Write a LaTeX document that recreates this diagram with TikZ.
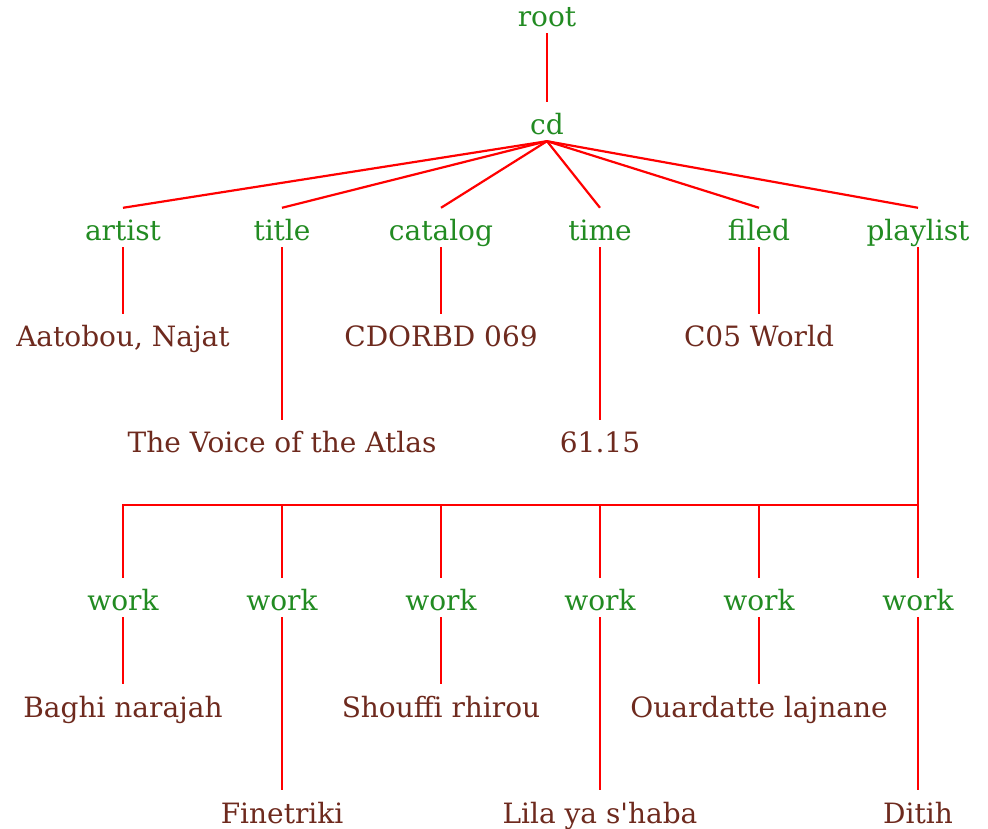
\documentclass[tikz,border=0pt]{standalone}
\usepackage{fontspec}
\setmainfont{DejaVu Serif}
\definecolor{tagc}{RGB}{34,139,34}
\definecolor{valc}{RGB}{110,42,30}
\definecolor{linec}{RGB}{255,0,0}
\begin{document}
\begin{tikzpicture}[x=1pt,y=1pt,
  lbl/.style={anchor=base,font=\fontsize{28}{33}\selectfont,text height=27pt,text depth=0pt,inner ysep=6pt,inner xsep=0pt},
  tag/.style={lbl,text=tagc},
  val/.style={lbl,text=valc},
  conn/.style={draw=linec,line width=2.2pt}]
\useasboundingbox (0,0) rectangle (988,828);
% baselines (image y): 27,135,241,347,453,611,717,823
\node[tag] (root) at (547,801) {root};
\node[tag] (cd) at (547,693) {cd};
\node[tag] (artist) at (123,587) {artist};
\node[tag] (title) at (282,587) {title};
\node[tag] (catalog) at (441,587) {catalog};
\node[tag] (time) at (600,587) {time};
\node[tag] (filed) at (759,587) {filed};
\node[tag] (playlist) at (918,587) {playlist};
\node[val] (vartist) at (123,481) {Aatobou, Najat};
\node[val] (vcatalog) at (441,481) {CDORBD 069};
\node[val] (vfiled) at (759,481) {C05 World};
\node[val] (vtitle) at (282,375) {The Voice of the Atlas};
\node[val] (vtime) at (600,375) {61.15};
\coordinate (bus) at (918,323);
\node[tag] (w1) at (123,217) {work};
\node[tag] (w2) at (282,217) {work};
\node[tag] (w3) at (441,217) {work};
\node[tag] (w4) at (600,217) {work};
\node[tag] (w5) at (759,217) {work};
\node[tag] (w6) at (918,217) {work};
\node[val] (v1) at (123,111) {Baghi narajah};
\node[val] (v3) at (441,111) {Shouffi rhirou};
\node[val] (v5) at (759,111) {Ouardatte lajnane};
\node[val] (v2) at (282,5) {Finetriki};
\node[val] (v4) at (600,5) {Lila ya s\textquotesingle haba};
\node[val] (v6) at (918,5) {Ditih};
\draw[conn] (root.south) -- (cd.north);
\foreach \c in {artist,title,catalog,time,filed,playlist}
  \draw[conn] (cd.south) -- (\c.north);
\draw[conn] (artist.south) -- (vartist.north);
\draw[conn] (catalog.south) -- (vcatalog.north);
\draw[conn] (filed.south) -- (vfiled.north);
\draw[conn] (title.south) -- (vtitle.north);
\draw[conn] (time.south) -- (vtime.north);
\draw[conn] (playlist.south) -- (bus);
\foreach \w in {w1,w2,w3,w4,w5,w6}
  \draw[conn] (bus) -| (\w.north);
\draw[conn] (w1.south) -- (v1.north);
\draw[conn] (w3.south) -- (v3.north);
\draw[conn] (w5.south) -- (v5.north);
\draw[conn] (w2.south) -- (v2.north);
\draw[conn] (w4.south) -- (v4.north);
\draw[conn] (w6.south) -- (v6.north);
\end{tikzpicture}
\end{document}
